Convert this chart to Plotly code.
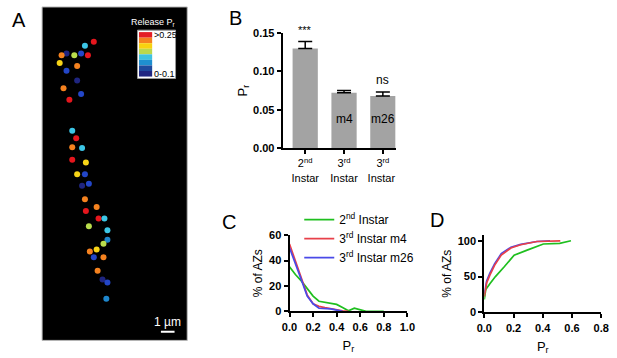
import plotly.graph_objects as go

W, H = 617, 358
FONT = "Liberation Sans, Arial, sans-serif"

# ---------------- Panel A data (positions in µm, level 1..8) ----------------
az_x = [3.79, 3.14, 1.79, 1.43, 2.36, 2.86, 3.36, 1.29, 2.57, 1.79, 2.57, 1.57, 2.86, 2.00,
        2.21, 2.50, 2.21, 2.93, 2.21, 3.21, 2.57, 3.14, 2.93, 3.43, 3.14, 4.00, 3.21, 4.14,
        4.57, 3.43, 4.79, 4.79, 4.50, 4.00, 3.50, 3.79, 4.50, 4.07, 4.43, 4.79, 4.71]
az_y = [2.57, 2.86, 3.43, 3.57, 3.57, 3.43, 3.57, 4.14, 4.36, 4.71, 5.43, 6.00, 6.43, 6.86,
        9.14, 9.71, 10.36, 10.43, 11.29, 11.50, 12.36, 12.36, 13.21, 13.07, 14.21, 14.79, 15.07, 15.64,
        15.64, 16.21, 16.50, 17.21, 17.50, 17.93, 18.07, 18.50, 18.50, 19.50, 20.14, 20.36, 21.57]
az_level = [8, 4, 1, 7, 5, 2, 8, 6, 7, 2, 1, 7, 2, 8,
            4, 8, 7, 4, 8, 6, 6, 2, 1, 2, 7, 7, 8, 8,
            4, 5, 4, 3, 5, 6, 7, 2, 7, 7, 1, 2, 3]
level_colors = ["#1f2580", "#2346c8", "#1e86cc", "#3cc6e6", "#b9dc4c", "#f7d417", "#f5821f", "#e5161d"]
legend_bands = ["#e41e26", "#f5821f", "#f8d20f", "#bcd84c", "#3fc2e0", "#1f8fd0", "#1f4a9e", "#202682"]
img_w, img_h = 10.64, 24.64
scale_bar_um = 1.0

# ---------------- Panel B data ----------------
b_cats = ["2<sup>nd</sup><br>Instar", "3<sup>rd</sup><br>Instar", "3<sup>rd</sup><br>Instar "]
b_vals = [0.130, 0.072, 0.068]
b_err = [0.009, 0.003, 0.005]
b_sig = ["***", "", "ns"]
b_inner = ["", "m4", "m26"]

# ---------------- Panel C data (histogram %) ----------------
c_green_x = [0, 0.05, 0.10, 0.15, 0.20, 0.25, 0.30, 0.35, 0.40, 0.45, 0.50, 0.55, 0.60, 0.65, 0.70, 0.75, 0.80]
c_green_y = [35, 29, 24, 18, 12, 8, 7, 6, 5.5, 3, 0.5, 2.5, 1.5, 0, 0, 0, 0]
c_red_x = [0, 0.05, 0.10, 0.15, 0.20, 0.25, 0.30, 0.35, 0.40, 0.45, 0.50]
c_red_y = [53, 40, 26, 13, 6, 4, 3, 2, 1, 0.5, 0]
c_blue_x = [0, 0.05, 0.10, 0.15, 0.20, 0.25, 0.30, 0.35, 0.40, 0.45]
c_blue_y = [50, 38, 25, 12, 6, 2.5, 2.5, 2, 1, 0]

# ---------------- Panel D data (cumulative %) ----------------
d_green_x = [0, 0.01, 0.038, 0.076, 0.138, 0.204, 0.293, 0.404, 0.516, 0.593]
d_green_y = [18, 32, 40, 50, 64, 80, 87, 95.5, 96.5, 100]
d_red_x = [0, 0.016, 0.038, 0.071, 0.116, 0.182, 0.249, 0.36, 0.52]
d_red_y = [22, 41, 52, 66, 80, 90, 94.5, 99, 100]
d_blue_x = [0, 0.016, 0.038, 0.071, 0.116, 0.182, 0.249, 0.36, 0.45]
d_blue_y = [26, 44, 55, 68, 82, 91, 95, 99, 100]

series_names = ["2<sup>nd</sup> Instar", "3<sup>rd</sup> Instar m4", "3<sup>rd</sup> Instar m26"]
series_colors = ["#1fbf1f", "#e8404a", "#4a4ae8"]


def px(x):
    return x / W


def py(y):
    return 1 - y / H


fig = go.Figure()

# Panel A
fig.add_trace(go.Scatter(x=az_x, y=az_y, mode="markers", xaxis="x", yaxis="y",
                         marker=dict(size=6, color=[level_colors[l - 1] for l in az_level], line=dict(width=0)),
                         showlegend=False, hoverinfo="skip"))
sb_x0 = 8.71
fig.add_trace(go.Scatter(x=[sb_x0, sb_x0 + scale_bar_um], y=[24.0, 24.0], mode="lines", xaxis="x", yaxis="y",
                         line=dict(color="white", width=2), showlegend=False, hoverinfo="skip"))

# Panel B
fig.add_trace(go.Bar(x=b_cats, y=b_vals, xaxis="x2", yaxis="y2", width=0.65,
                     marker=dict(color="#a3a3a3", line=dict(width=0)),
                     error_y=dict(type="data", symmetric=False, array=b_err, arrayminus=[0] * len(b_err),
                                  color="black", thickness=1.5, width=7),
                     showlegend=False))

# Panel C and D
c_sets = [(c_green_x, c_green_y), (c_red_x, c_red_y), (c_blue_x, c_blue_y)]
d_sets = [(d_green_x, d_green_y), (d_red_x, d_red_y), (d_blue_x, d_blue_y)]
for i, (xs, ys) in enumerate(c_sets):
    fig.add_trace(go.Scatter(x=xs, y=ys, mode="lines", xaxis="x3", yaxis="y3", name=series_names[i],
                             line=dict(color=series_colors[i], width=1.7), legendrank=i + 1))
for i in [2, 0, 1]:
    xs, ys = d_sets[i]
    fig.add_trace(go.Scatter(x=xs, y=ys, mode="lines", xaxis="x4", yaxis="y4", showlegend=False,
                             line=dict(color=series_colors[i], width=1.7)))

tickfont = dict(family=FONT, size=11, color="black", weight="bold")
common = dict(showgrid=False, zeroline=False, showline=True, linecolor="black", linewidth=2,
              ticks="outside", ticklen=4, tickwidth=2, tickcolor="black", tickfont=tickfont)

fig.update_layout(
    width=W, height=H, margin=dict(l=0, r=0, t=0, b=0),
    paper_bgcolor="white", plot_bgcolor="rgba(0,0,0,0)",
    font=dict(family=FONT, color="black"),
    xaxis=dict(domain=[px(35), px(184)], range=[0, img_w], visible=False, fixedrange=True),
    yaxis=dict(domain=[py(346), py(1)], range=[img_h, 0], visible=False, fixedrange=True),
    xaxis2=dict(domain=[px(282), px(398)], range=[-0.58, 2.33], anchor="y2",
                **{**common, "tickfont": dict(family=FONT, size=11, color="black")}),
    yaxis2=dict(domain=[py(147), py(28)], range=[0, 0.15], anchor="x2", tickvals=[0, 0.05, 0.10, 0.15],
                ticktext=["0.00", "0.05", "0.10", "0.15"],
                title=dict(text="P<sub>r</sub>", font=dict(size=13), standoff=3), **common),
    xaxis3=dict(domain=[px(289), px(410)], range=[0, 1], anchor="y3", dtick=0.2, tickformat=".1f",
                title=dict(text="P<sub>r</sub>", font=dict(size=13), standoff=9), **common),
    yaxis3=dict(domain=[py(316), py(237)], range=[0, 60], anchor="x3", dtick=20,
                title=dict(text="% of AZs", font=dict(size=12), standoff=4), **common),
    xaxis4=dict(domain=[px(489), px(609)], range=[0, 0.8], anchor="y4", dtick=0.2, tickformat=".1f",
                title=dict(text="P<sub>r</sub>", font=dict(size=13), standoff=9), **common),
    yaxis4=dict(domain=[py(317), py(237)], range=[0, 108], anchor="x4", tickvals=[0, 50, 100],
                title=dict(text="% of AZs", font=dict(size=12), standoff=4), **common),
    legend=dict(x=px(299), y=py(206), xanchor="left", yanchor="top", bgcolor="rgba(0,0,0,0)",
                font=dict(family=FONT, size=12), tracegroupgap=0, itemwidth=30),
    barmode="overlay",
)

shapes = []
# black image background for panel A
shapes.append(dict(type="rect", xref="x domain", yref="y domain", x0=0, x1=1, y0=0, y1=1,
                   fillcolor="black", line=dict(color="#bbbbbb", width=1), layer="below"))
# colour key
shapes.append(dict(type="rect", xref="paper", yref="paper", x0=px(133), x1=px(172), y0=py(75), y1=py(25),
                   fillcolor="white", line=dict(color="#999999", width=1)))
n = len(legend_bands)
top, bot = 27.0, 73.0
step = (bot - top) / n
for i, c in enumerate(legend_bands):
    shapes.append(dict(type="rect", xref="paper", yref="paper", x0=px(134.5), x1=px(148),
                       y0=py(top + (i + 1) * step), y1=py(top + i * step), fillcolor=c, line=dict(width=0)))
fig.update_layout(shapes=shapes)

ann = []
for lab, xx, yy in [("A", 11, 14), ("B", 234, 12), ("C", 227, 223), ("D", 440, 221)]:
    ann.append(dict(text=lab, x=px(xx), y=py(yy), xref="paper", yref="paper", showarrow=False,
                    font=dict(size=20, family=FONT), xanchor="center", yanchor="middle"))
ann.append(dict(text="Release P<sub>r</sub>", x=px(149), y=py(17), xref="paper", yref="paper", showarrow=False,
                font=dict(size=9, color="white"), xanchor="center", yanchor="middle"))
ann.append(dict(text=">0.25", x=px(148), y=py(30), xref="paper", yref="paper", showarrow=False,
                font=dict(size=9, color="black"), xanchor="left", yanchor="middle"))
ann.append(dict(text="0-0.1", x=px(148), y=py(70), xref="paper", yref="paper", showarrow=False,
                font=dict(size=9, color="black"), xanchor="left", yanchor="middle"))
ann.append(dict(text="1 µm", x=sb_x0 + scale_bar_um / 2, y=23.3, xref="x", yref="y", showarrow=False,
                font=dict(size=12, color="white"), xanchor="center", yanchor="middle"))
for cat, v, e, s, inner in zip(b_cats, b_vals, b_err, b_sig, b_inner):
    if s:
        ann.append(dict(text=s, x=cat, y=v + e, xref="x2", yref="y2", showarrow=False,
                        font=dict(size=12 if s == "ns" else 11), xanchor="center", yanchor="bottom", yshift=3))
    if inner:
        ann.append(dict(text=inner, x=cat, y=0.038, xref="x2", yref="y2", showarrow=False,
                        font=dict(size=12), xanchor="center", yanchor="middle"))
fig.update_layout(annotations=ann)

fig.write_html("out.html", config={"displayModeBar": False},
               post_script="document.body.style.margin='0';document.body.style.overflow='hidden';")
